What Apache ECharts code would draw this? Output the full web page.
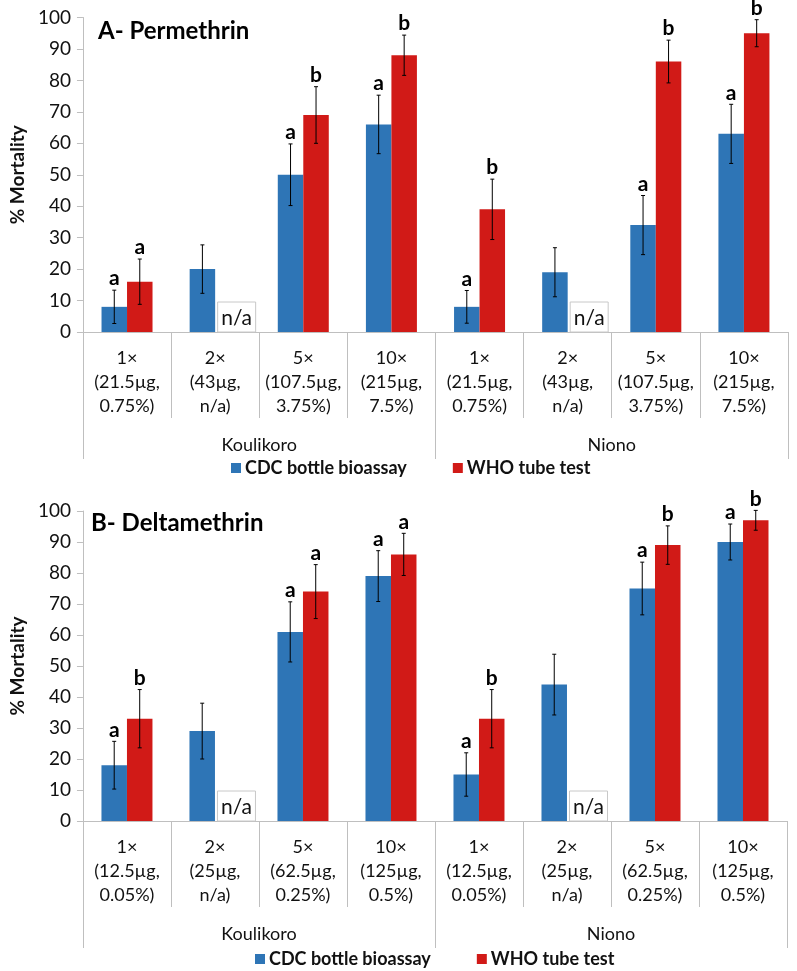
<!DOCTYPE html>
<html><head><meta charset="utf-8">
<script src="https://cdn.jsdelivr.net/npm/echarts@6/dist/echarts.min.js"></script>
<style>html,body{margin:0;padding:0;background:#fff}#c{width:797px;height:971px}</style>
</head><body><div id="c"></div>
<script>
// ---- data ----
const groups = ['Koulikoro', 'Niono'];
const catsPerm = ['1×\n(21.5µg,\n0.75%)', '2×\n(43µg,\nn/a)', '5×\n(107.5µg,\n3.75%)', '10×\n(215µg,\n7.5%)',
                  '1×\n(21.5µg,\n0.75%)', '2×\n(43µg,\nn/a)', '5×\n(107.5µg,\n3.75%)', '10×\n(215µg,\n7.5%)'];
const catsDelt = ['1×\n(12.5µg,\n0.05%)', '2×\n(25µg,\nn/a)', '5×\n(62.5µg,\n0.25%)', '10×\n(125µg,\n0.5%)',
                  '1×\n(12.5µg,\n0.05%)', '2×\n(25µg,\nn/a)', '5×\n(62.5µg,\n0.25%)', '10×\n(125µg,\n0.5%)'];
const seriesNames = ['CDC bottle bioassay', 'WHO tube test'];
const yTicks = [0, 100, 10];

const permCDC    = [8, 20, 50, 66, 8, 19, 34, 63];
const permCDCErr = [5.3, 7.7, 9.8, 9.3, 5.2, 7.8, 9.4, 9.4];
const permCDCSig = ['a', '', 'a', 'a', 'a', '', 'a', 'a'];
const permWHO    = [16, null, 69, 88, 39, null, 86, 95];
const permWHOErr = [7.2, null, 9, 6.4, 9.6, null, 6.8, 4.3];
const permWHOSig = ['a', '', 'b', 'b', 'b', '', 'b', 'b'];

const deltCDC    = [18, 29, 61, 79, 15, 44, 75, 90];
const deltCDCErr = [7.7, 9, 9.7, 8.2, 7, 9.8, 8.5, 5.8];
const deltCDCSig = ['a', '', 'a', 'a', 'a', '', 'a', 'a'];
const deltWHO    = [33, null, 74, 86, 33, null, 89, 97];
const deltWHOErr = [9.4, null, 8.7, 6.8, 9.4, null, 6.2, 3.2];
const deltWHOSig = ['b', '', 'a', 'a', 'b', '', 'b', 'b'];

// ---- style ----
const FONT = 'Lato';
const BLUE = '#2e75b6', RED = '#d11a17', GREY = '#bfbfbf';
const BAR_W = 25.5;

const chart = echarts.init(document.getElementById('c'), null, {renderer: 'canvas'});

function errData(vals, errs, sigs, side) {
  const out = [];
  vals.forEach((v, i) => { if (v != null) out.push([i, v, errs[i], sigs[i], side]); });
  return out;
}
function naData(vals) {
  const out = [];
  vals.forEach((v, i) => { if (v == null) out.push([i, 0]); });
  return out;
}
function renderErr(params, api) {
  const i = api.value(0), v = api.value(1), e = api.value(2);
  const side = api.value(4);
  const c = api.coord([i, v]);
  const x = c[0] + side * BAR_W / 2;
  const yTop = api.coord([i, v + e])[1];
  const yBot = api.coord([i, v - e])[1];
  const letter = api.value(3);
  return {
    type: 'group',
    children: [
      {type: 'line', shape: {x1: x, y1: yTop, x2: x, y2: yBot}, style: {stroke: '#000', lineWidth: 1}},
      {type: 'line', shape: {x1: x - 2, y1: yTop, x2: x + 2, y2: yTop}, style: {stroke: '#000', lineWidth: 1}},
      {type: 'line', shape: {x1: x - 2, y1: yBot, x2: x + 2, y2: yBot}, style: {stroke: '#000', lineWidth: 1}},
      {type: 'text', x: x, y: yTop - 1, style: {text: letter, fontFamily: FONT, fontWeight: 'bold', fontSize: 21,
        fill: '#000', align: 'center', verticalAlign: 'bottom'}}
    ]
  };
}
function renderNA(params, api) {
  const i = api.value(0);
  const c = api.coord([i, 0]);
  const x0 = c[0] + 2.5, w = 38, h = 30;
  return {
    type: 'group',
    children: [
      {type: 'rect', shape: {x: x0, y: c[1] - h, width: w, height: h}, style: {fill: '#fff', stroke: '#c8c8c8', lineWidth: 1}},
      {type: 'text', x: x0 + w / 2, y: c[1] - h / 2 + 1, style: {text: 'n/a', fontFamily: FONT, fontSize: 21, fill: '#111',
        align: 'center', verticalAlign: 'middle'}}
    ]
  };
}

function xAxes(cats, gridIndex) {
  return [
    {type: 'category', gridIndex, data: cats, position: 'bottom',
     axisLine: {show: true, lineStyle: {color: GREY}},
     axisTick: {show: true, length: 86, alignWithLabel: false, lineStyle: {color: GREY}},
     axisLabel: {interval: 0, margin: 14, fontFamily: FONT, fontSize: 18, lineHeight: 24, color: '#111'}},
    {type: 'category', gridIndex, data: groups, position: 'bottom',
     axisLine: {show: false},
     axisTick: {show: true, length: 127, lineStyle: {color: GREY}},
     axisLabel: {margin: 101, fontFamily: FONT, fontSize: 18, lineHeight: 24, color: '#111'}}
  ];
}
function yAxis(gridIndex) {
  return {type: 'value', gridIndex, min: yTicks[0], max: yTicks[1], interval: yTicks[2],
    name: '% Mortality', nameLocation: 'middle', nameGap: 55, nameRotate: 90,
    nameTextStyle: {fontFamily: FONT, fontWeight: 'bold', fontSize: 19, color: '#111'},
    axisLine: {show: true, lineStyle: {color: GREY}},
    axisTick: {show: true, length: 6, lineStyle: {color: GREY}},
    axisLabel: {margin: 12, fontFamily: FONT, fontSize: 19, color: '#111'},
    splitLine: {show: false}};
}
function bars(name, vals, color, xi, yi) {
  return {type: 'bar', name, data: vals, xAxisIndex: xi, yAxisIndex: yi, barWidth: BAR_W, barGap: '0%',
    itemStyle: {color}, emphasis: {disabled: true}, animation: false};
}
function custom(render, data, xi, yi) {
  return {type: 'custom', renderItem: render, data, xAxisIndex: xi, yAxisIndex: yi, clip: false,
    encode: {x: 0, y: 1}, animation: false, silent: true, z: 5};
}
function legend(left, top, gap) {
  return {data: seriesNames, left, top, itemWidth: 10, itemHeight: 10, itemGap: gap, icon: 'rect',
    textStyle: {fontFamily: FONT, fontWeight: 'bold', fontSize: 18, color: '#111', padding: [0, 0, 0, -1]}, selectedMode: false};
}

const option = {
  animation: false,
  textStyle: {fontFamily: FONT},
  title: [
    {text: 'A- Permethrin', left: 93, top: 14, textStyle: {fontFamily: FONT, fontWeight: 'bold', fontSize: 24, color: '#000'}},
    {text: 'B- Deltamethrin', left: 86, top: 506, textStyle: {fontFamily: FONT, fontWeight: 'bold', fontSize: 24, color: '#000'}}
  ],
  legend: [legend(226, 454, 46), legend(250, 945, 46)],
  grid: [
    {left: 71, top: 17.5, width: 717, height: 314.5},
    {left: 71, top: 511, width: 716, height: 310}
  ],
  xAxis: [...xAxes(catsPerm, 0), ...xAxes(catsDelt, 1)],
  yAxis: [yAxis(0), yAxis(1)],
  series: [
    bars(seriesNames[0], permCDC, BLUE, 0, 0),
    bars(seriesNames[1], permWHO, RED, 0, 0),
    custom(renderErr, errData(permCDC, permCDCErr, permCDCSig, -1), 0, 0),
    custom(renderErr, errData(permWHO, permWHOErr, permWHOSig, 1), 0, 0),
    custom(renderNA, naData(permWHO), 0, 0),
    bars(seriesNames[0], deltCDC, BLUE, 2, 1),
    bars(seriesNames[1], deltWHO, RED, 2, 1),
    custom(renderErr, errData(deltCDC, deltCDCErr, deltCDCSig, -1), 2, 1),
    custom(renderErr, errData(deltWHO, deltWHOErr, deltWHOSig, 1), 2, 1),
    custom(renderNA, naData(deltWHO), 2, 1)
  ]
};
chart.setOption(option);
</script></body></html>
